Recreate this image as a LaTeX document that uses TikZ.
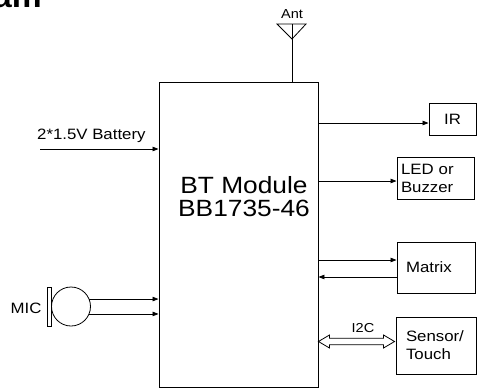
\documentclass[tikz,border=0pt]{standalone}
\usepackage{fontspec}
\setmainfont{Liberation Sans}[FakeStretch=1.12]
\usetikzlibrary{arrows.meta,calc}
\tikzset{
  blok/.style={draw, line width=0.9pt, inner sep=0pt},
  sig/.style={line width=0.8pt, -{Triangle[length=6pt,width=4.5pt]}},
  lbl/.style={font=\fontsize{15}{18}\selectfont, inner sep=0pt},
  klein/.style={font=\fontsize{13}{15}\selectfont, inner sep=0pt}
}
\begin{document}
\begin{tikzpicture}[x=1pt,y=-1pt]
  \useasboundingbox (0,0) rectangle (484,391);

  % Titel (afgesneden)
  \node[anchor=base east, inner sep=0pt, font=\bfseries\fontsize{30}{36}\selectfont] (titel) at (42,7.5) {am};

  % BT module
  \node[blok, minimum width=159pt, minimum height=305pt] (bt) at (238.5,234.5) {};
  \node[align=center, inner sep=0pt, font=\fontsize{23.5}{23}\selectfont] (btnaam) at (244,197) {BT Module\\BB1735-46};

  % Antenne
  \coordinate (anttop) at (292,24);
  \draw[line width=0.8pt] (277,24) -- (306,24) -- (292,39) -- cycle;
  \draw[line width=0.8pt] (anttop) -- (anttop |- bt.north);
  \node[klein] (ant) at (292,14) {Ant};

  % Batterij
  \node[lbl, anchor=west] (batt) at (37,136) {2*1.5V Battery};
  \coordinate (battin) at (40,149);
  \draw[sig] (battin) -- (battin -| bt.west);

  % Microfoon
  \node[draw, circle, line width=0.8pt, minimum size=39pt, inner sep=0pt] (mic) at (71,306.5) {};
  \node[blok, line width=0.8pt, minimum width=4pt, minimum height=39pt] (micbar) at (49.5,306.5) {};
  \node[lbl] (miclbl) at (26,308) {MIC};
  \draw[sig] (mic.22) -- (mic.22 -| bt.west);
  \draw[sig] (mic.-22) -- (mic.-22 -| bt.west);

  % Uitgangen
  \node[blok, lbl, minimum width=47pt, minimum height=32pt] (ir) at (452.5,119) {IR};
  \node[blok, lbl, align=left, text width=69pt, inner xsep=4pt, minimum height=42pt] (led) at (435.5,178) {LED or\\Buzzer};
  \node[blok, lbl, align=left, text width=60pt, inner xsep=9pt, minimum height=51pt] (mat) at (436,267.5) {Matrix};
  \node[blok, lbl, align=left, text width=60pt, inner xsep=10pt, minimum height=57pt] (sensor) at (436,345.5) {Sensor/\\Touch};

  \draw[sig] (bt.east |- 0,123) -- (ir.west |- 0,123);
  \draw[sig] (bt.east |- 0,181) -- (led.west |- 0,181);
  \draw[sig] (bt.east |- 0,260) -- (mat.west |- 0,260);
  \draw[sig] (mat.west |- 0,277) -- (bt.east |- 0,277);

  % I2C bus
  \coordinate (i2cl) at (bt.east |- 0,341.5);
  \coordinate (i2cr) at ($(sensor.west |- 0,341.5)+(-1,0)$);
  \draw[line width=0.8pt] (i2cl) -- ($(i2cl)+(11,-6.5)$) -- ($(i2cl)+(11,-3.3)$)
    -- ($(i2cr)+(-11,-3.3)$) -- ($(i2cr)+(-11,-6.5)$) -- (i2cr)
    -- ($(i2cr)+(-11,6.5)$) -- ($(i2cr)+(-11,3.3)$)
    -- ($(i2cl)+(11,3.3)$) -- ($(i2cl)+(11,6.5)$) -- cycle;
  \node[klein] (i2c) at (363,328) {I2C};
\end{tikzpicture}
\end{document}
